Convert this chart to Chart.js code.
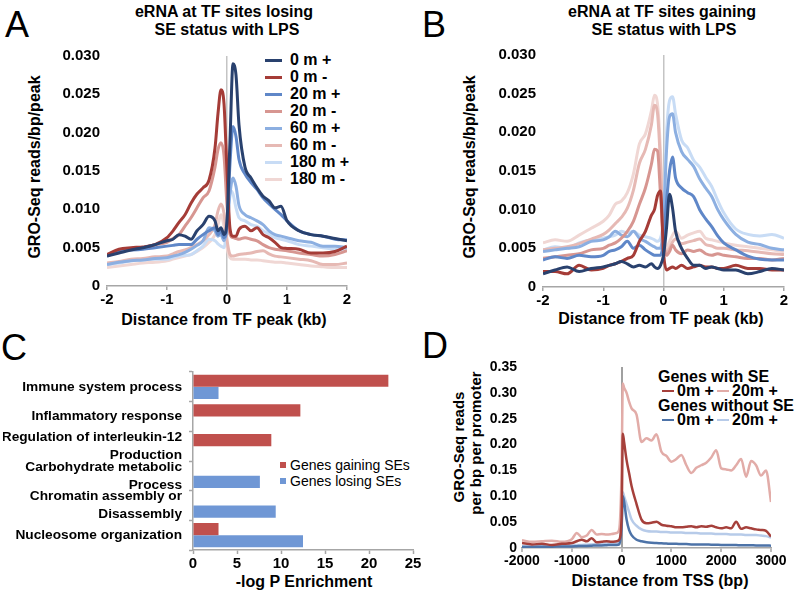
<!DOCTYPE html>
<html>
<head>
<meta charset="utf-8">
<script src="https://cdn.jsdelivr.net/npm/chart.js@4.4.0/dist/chart.umd.min.js"></script>
<style>
  body { margin: 0; background: #fff; }
  #page { position: relative; width: 799px; height: 594px; overflow: hidden; font-family: "Liberation Sans", Arial, sans-serif; color: #000; }
  canvas { position: absolute; }
  .t { position: absolute; white-space: nowrap; font-weight: bold; font-size: 16px; line-height: 1; transform: translate(-50%, -50%); }
  .yt { transform: translate(-50%, -50%) rotate(-90deg); }
  .l { position: absolute; white-space: nowrap; font-weight: bold; font-size: 16px; line-height: 1; transform: translateY(-50%); }
  .letter { position: absolute; font-size: 36px; line-height: 1; }
  .dash { position: absolute; }
</style>
</head>
<body>
<div id="page">
  <div class="letter" style="left:5px;top:7px">A</div>
  <div class="letter" style="left:422px;top:7px">B</div>
  <div class="letter" style="left:1px;top:330px">C</div>
  <div class="letter" style="left:422px;top:328px">D</div>

  <div class="t" style="left:224px;top:12px">eRNA at TF sites losing</div>
  <div class="t" style="left:227px;top:30px">SE status with LPS</div>
  <div class="t" style="left:662px;top:12px">eRNA at TF sites gaining</div>
  <div class="t" style="left:664px;top:30px">SE status with LPS</div>

  <div class="t yt" style="left:35px;top:167px">GRO-Seq reads/bp/peak</div>
  <div class="t yt" style="left:470px;top:167px">GRO-Seq reads/bp/peak</div>
  <div class="t" style="left:224px;top:320px">Distance from TF peak (kb)</div>
  <div class="t" style="left:661px;top:319px">Distance from TF peak (kb)</div>

  <div class="t" style="left:304px;top:582px">-log P Enrichment</div>
  <div class="t" style="left:660px;top:581px">Distance from TSS (bp)</div>
  <div class="t yt" style="left:458px;top:447px;font-size:15px">GRO-Seq reads</div>
  <div class="t yt" style="left:475px;top:443px;font-size:15px">per bp per promoter</div>

  <div id="legA"></div>
  <div id="legC"></div>
  <div id="legD"></div>

  <canvas id="chartA" width="400" height="310" style="left:0;top:0"></canvas>
  <canvas id="chartB" width="399" height="310" style="left:400px;top:0"></canvas>
  <canvas id="chartC" width="440" height="264" style="left:0;top:330px"></canvas>
  <canvas id="chartD" width="399" height="264" style="left:400px;top:330px"></canvas>
</div>
<script>
// distance from TF peak (kb), shared by panels A and B
var distKb = [-2, -1.8, -1.6, -1.4, -1.2, -1, -0.9, -0.8, -0.7, -0.6, -0.5, -0.4, -0.3, -0.2,
  -0.15, -0.1, -0.05, 0, 0.05, 0.1, 0.15, 0.2, 0.3, 0.4, 0.5, 0.6, 0.7, 0.8, 0.9, 1, 1.2, 1.4, 1.6, 1.8, 2];
var timeNames = ['0 m +', '0 m -', '20 m +', '20 m -', '60 m +', '60 m -', '180 m +', '180 m -'];

// panel A: TF sites losing SE status
var lose0p = [0.0039,0.0043,0.0047,0.0050,0.0054,0.0059, 0.0061,0.0067,0.0065,0.0061,0.0072,0.0080,0.0091,0.0085,
  0.0072,0.0076,0.0067,0.0085,0.0190,0.0290,0.0275,0.0210, 0.0155,0.0141,0.0128,0.0117,0.0111,0.0102,0.0104,0.0085,
  0.0072,0.0067,0.0065,0.0062,0.0059];
var lose0m = [0.0041,0.0048,0.0050,0.0051,0.0054,0.0063, 0.0072,0.0083,0.0093,0.0108,0.0120,0.0128,0.0138,0.0180,
  0.0225,0.0256,0.0238,0.0150,0.0075,0.0065,0.0065,0.0074, 0.0078,0.0072,0.0076,0.0067,0.0063,0.0057,0.0050,0.0049,
  0.0048,0.0043,0.0043,0.0045,0.0052];
var lose20p = [0.0039,0.0046,0.0047,0.0048,0.0050,0.0052, 0.0053,0.0054,0.0054,0.0054,0.0061,0.0067,0.0072,0.0076,
  0.0067,0.0072,0.0063,0.0080,0.0160,0.0208,0.0195,0.0165, 0.0146,0.0135,0.0126,0.0115,0.0107,0.0100,0.0093,0.0085,
  0.0072,0.0067,0.0065,0.0061,0.0060];
var lose20m = [0.0041,0.0045,0.0048,0.0050,0.0054,0.0057, 0.0062,0.0067,0.0078,0.0089,0.0102,0.0115,0.0124,0.0155,
  0.0178,0.0187,0.0170,0.0105,0.0067,0.0063,0.0062,0.0061, 0.0063,0.0061,0.0059,0.0054,0.0050,0.0048,0.0047,0.0046,
  0.0043,0.0041,0.0039,0.0041,0.0046];
var lose60p = [0.0028,0.0031,0.0033,0.0034,0.0036,0.0037, 0.0039,0.0041,0.0044,0.0048,0.0053,0.0059,0.0076,0.0072,
  0.0065,0.0067,0.0059,0.0075,0.0120,0.0141,0.0130,0.0105, 0.0093,0.0089,0.0085,0.0080,0.0072,0.0067,0.0065,0.0063,
  0.0059,0.0057,0.0052,0.0052,0.0050];
var lose60m = [0.0030,0.0032,0.0035,0.0036,0.0038,0.0039, 0.0042,0.0045,0.0047,0.0050,0.0054,0.0059,0.0067,0.0080,
  0.0098,0.0107,0.0095,0.0060,0.0041,0.0039,0.0040,0.0041, 0.0042,0.0043,0.0045,0.0046,0.0042,0.0039,0.0038,0.0037,
  0.0035,0.0033,0.0028,0.0028,0.0030];
var lose180p = [0.0028,0.0030,0.0033,0.0034,0.0035,0.0035, 0.0037,0.0039,0.0040,0.0041,0.0046,0.0052,0.0061,0.0059,
  0.0055,0.0052,0.0050,0.0080,0.0125,0.0120,0.0102,0.0089, 0.0085,0.0080,0.0078,0.0072,0.0068,0.0063,0.0061,0.0059,
  0.0054,0.0052,0.0050,0.0048,0.0046];
var lose180m = [0.0024,0.0026,0.0028,0.0030,0.0031,0.0033, 0.0035,0.0037,0.0039,0.0041,0.0045,0.0050,0.0057,0.0067,
  0.0080,0.0093,0.0078,0.0050,0.0037,0.0035,0.0035,0.0035, 0.0035,0.0034,0.0034,0.0033,0.0032,0.0031,0.0031,0.0030,
  0.0028,0.0026,0.0025,0.0024,0.0024];

// panel B: TF sites gaining SE status
var gain0p = [0.0017,0.0022,0.0026,0.0020,0.0024,0.0026, 0.0028,0.0030,0.0033,0.0030,0.0026,0.0028,0.0026,0.0030,
  0.0026,0.0024,0.0028,0.0041,0.0076,0.0120,0.0102,0.0072, 0.0050,0.0037,0.0028,0.0028,0.0024,0.0026,0.0024,0.0022,
  0.0022,0.0017,0.0020,0.0024,0.0022];
var gain0m = [0.0020,0.0020,0.0017,0.0028,0.0022,0.0024, 0.0028,0.0030,0.0033,0.0037,0.0041,0.0059,0.0072,0.0093,
  0.0100,0.0118,0.0124,0.0045,0.0022,0.0024,0.0026,0.0024, 0.0028,0.0024,0.0026,0.0028,0.0026,0.0026,0.0024,0.0024,
  0.0028,0.0024,0.0024,0.0022,0.0022];
var gain20p = [0.0035,0.0039,0.0037,0.0041,0.0039,0.0041, 0.0046,0.0048,0.0052,0.0059,0.0050,0.0054,0.0048,0.0043,
  0.0041,0.0041,0.0041,0.0060,0.0110,0.0150,0.0168,0.0141, 0.0128,0.0122,0.0117,0.0100,0.0088,0.0078,0.0066,0.0057,
  0.0048,0.0040,0.0036,0.0035,0.0035];
var gain20m = [0.0037,0.0039,0.0041,0.0043,0.0048,0.0050, 0.0054,0.0057,0.0063,0.0072,0.0085,0.0107,0.0128,0.0159,
  0.0178,0.0176,0.0120,0.0059,0.0041,0.0046,0.0054,0.0048, 0.0043,0.0048,0.0046,0.0048,0.0043,0.0041,0.0043,0.0041,
  0.0039,0.0037,0.0037,0.0035,0.0037];
var gain60p = [0.0046,0.0048,0.0050,0.0052,0.0059,0.0061, 0.0065,0.0072,0.0067,0.0065,0.0072,0.0063,0.0059,0.0054,
  0.0052,0.0050,0.0050,0.0085,0.0176,0.0220,0.0224,0.0200, 0.0175,0.0165,0.0156,0.0140,0.0128,0.0117,0.0100,0.0087,
  0.0068,0.0058,0.0055,0.0050,0.0048];
var gain60m = [0.0048,0.0050,0.0052,0.0056,0.0062,0.0068, 0.0074,0.0082,0.0090,0.0102,0.0125,0.0160,0.0178,0.0210,
  0.0235,0.0225,0.0160,0.0068,0.0045,0.0050,0.0058,0.0062, 0.0056,0.0058,0.0060,0.0062,0.0055,0.0053,0.0050,0.0050,
  0.0048,0.0047,0.0045,0.0043,0.0042];
var gain180p = [0.0048,0.0052,0.0050,0.0057,0.0061,0.0063, 0.0065,0.0067,0.0072,0.0070,0.0072,0.0067,0.0065,0.0063,
  0.0061,0.0059,0.0063,0.0093,0.0198,0.0241,0.0246,0.0224, 0.0190,0.0180,0.0164,0.0155,0.0142,0.0130,0.0112,0.0096,
  0.0075,0.0068,0.0066,0.0068,0.0063];
var gain180m = [0.0057,0.0061,0.0059,0.0067,0.0076,0.0085, 0.0093,0.0107,0.0111,0.0122,0.0146,0.0185,0.0198,0.0228,
  0.0248,0.0237,0.0176,0.0076,0.0050,0.0059,0.0067,0.0072, 0.0063,0.0067,0.0070,0.0072,0.0063,0.0061,0.0059,0.0057,
  0.0054,0.0052,0.0050,0.0048,0.0046];

// panel C: GO enrichment
var goTerms = [
  'Immune system process',
  'Inflammatory response',
  ['Regulation of interleukin-12', 'Production'],
  ['Carbohydrate metabolic', 'Process'],
  ['Chromatin assembly or', 'Disassembly'],
  'Nucleosome organization'
];
var gainingSE = [22.2, 12.2, 8.9, 0, 0, 2.9];
var losingSE = [2.9, 0, 0, 7.6, 9.4, 12.5];

// panel D: distance from TSS (bp)
var distTss = [-2000,-1800,-1600,-1400,-1200,-1000,-900,-800,-700,-600,-500,-400,-300,-200,-100,-50,
  0,25,50,100,150,200,300,400,500,600,700,800,900,1000,
  1100,1200,1300,1400,1500,1600,1700,1800,1900,2000,2100,2200,2300,2400,2500,2600,2700,2800,2900,3000];
var withSE0 = [0.0096,0.007,0.008,0.006,0.008,0.0096,0.013,0.016,0.013,0.019,0.011,0.012,0.013,0.012,0.013,0.016,
  0.06,0.221,0.205,0.17,0.145,0.12,0.085,0.055,0.048,0.049,0.051,0.045,0.043,0.042,
  0.04,0.04,0.041,0.042,0.04,0.042,0.041,0.043,0.04,0.038,0.04,0.038,0.051,0.037,0.04,0.038,0.036,0.035,0.033,0.022];
var withSE20 = [0.015,0.012,0.013,0.014,0.012,0.017,0.029,0.021,0.024,0.035,0.026,0.027,0.026,0.027,0.029,0.035,
  0.15,0.318,0.31,0.30,0.283,0.27,0.258,0.205,0.212,0.208,0.22,0.186,0.178,0.167,
  0.172,0.18,0.16,0.145,0.155,0.16,0.165,0.175,0.189,0.154,0.152,0.15,0.16,0.172,0.138,0.168,0.16,0.14,0.15,0.089];
var noSE0 = [0.002,0.002,0.0025,0.0025,0.003,0.003,0.0035,0.004,0.004,0.0045,0.005,0.005,0.0055,0.006,0.006,0.007,
  0.04,0.1,0.09,0.055,0.035,0.025,0.016,0.013,0.011,0.01,0.0095,0.009,0.0085,0.008,
  0.008,0.0075,0.0075,0.007,0.007,0.0068,0.0066,0.0065,0.0063,0.006,0.006,0.0058,0.0056,0.0055,0.0053,0.0052,0.005,0.005,0.0048,0.0045];
var noSE20 = [0.004,0.004,0.0045,0.005,0.005,0.0055,0.006,0.006,0.0065,0.007,0.0075,0.008,0.0085,0.009,0.01,0.012,
  0.045,0.108,0.1,0.085,0.07,0.055,0.043,0.036,0.033,0.032,0.032,0.031,0.031,0.03,
  0.03,0.03,0.029,0.029,0.029,0.028,0.028,0.028,0.027,0.027,0.027,0.026,0.026,0.026,0.025,0.025,0.025,0.024,0.023,0.02];

// styles
var timeColors = ['#29416e', '#a53c37', '#5f87c8', '#d79691', '#8cafe1', '#e6b9b4', '#c8dcf5', '#f0d7d4'];
var tssNames = ['Genes with SE 0m +', 'Genes with SE 20m +', 'Genes without SE 0m +', 'Genes without SE 20m +'];
var tssColors = ['#a6403b', '#e2aca8', '#4d73a8', '#b7cbe9'];
var barRed = '#c0504d', barBlue = '#6f97d5';
var axisColor = '#a6a6a6';

function boldFont(iSize) {
    return { family: 'Liberation Sans', size: iSize, weight: 'bold' };
}

function lineSets(names, colors, xs, series, width) {
    return series.map(function(vals, i) {
        return {
            label: names[i],
            data: xs.map(function(x, j) { return { x: x, y: vals[j] }; }),
            borderColor: colors[i],
            borderWidth: width,
            pointRadius: 0,
            fill: false,
            cubicInterpolationMode: 'monotone'
        };
    });
}

function profileChart(sId, aDatasets, o) {
    return new Chart(document.getElementById(sId), {
        type: 'line',
        data: { datasets: aDatasets },
        options: {
            responsive: false,
            animation: false,
            layout: { padding: o.pad },
            plugins: { legend: { display: false }, tooltip: { enabled: false } },
            scales: {
                x: {
                    type: 'linear', min: o.xmin, max: o.xmax,
                    ticks: { stepSize: o.xstep, padding: 1, color: '#000', font: boldFont(o.xFont), maxRotation: 0, autoSkip: false,
                        callback: function(v) { return String(v); } },
                    grid: {
                        color: function(c) { return c.tick && c.tick.value === 0 ? o.zeroColor : 'rgba(0,0,0,0)'; },
                        lineWidth: o.zeroWidth, tickColor: axisColor, tickWidth: 1.5, tickLength: 4
                    },
                    border: { color: axisColor, width: 1.5 },
                    afterFit: function(s) { s.height = 22; }
                },
                y: {
                    min: 0, max: o.ymax,
                    ticks: { stepSize: o.ystep, padding: o.ypad, color: '#000', font: boldFont(o.yFont),
                        callback: function(v) { return v === 0 ? '0' : v.toFixed(o.dec); } },
                    grid: { display: false, drawTicks: false },
                    border: { display: false },
                    afterFit: function(s) { s.width = 60; }
                }
            }
        }
    });
}

profileChart('chartA',
    lineSets(timeNames, timeColors, distKb, [lose0p, lose0m, lose20p, lose20m, lose60p, lose60m, lose180p, lose180m], 3),
    { pad: { left: 47, right: 53, top: 56, bottom: 2 }, xmin: -2, xmax: 2, xstep: 1, ymax: 0.03, ystep: 0.005, dec: 3,
      ypad: 7, xFont: 15, yFont: 15, zeroColor: '#c4c4c4', zeroWidth: 1.5 });

profileChart('chartB',
    lineSets(timeNames, timeColors, distKb, [gain0p, gain0m, gain20p, gain20m, gain60p, gain60m, gain180p, gain180m], 3),
    { pad: { left: 83, right: 15, top: 55, bottom: 1 }, xmin: -2, xmax: 2, xstep: 1, ymax: 0.03, ystep: 0.005, dec: 3,
      ypad: 7, xFont: 15, yFont: 15, zeroColor: '#c4c4c4', zeroWidth: 1.5 });

profileChart('chartD',
    lineSets(tssNames, tssColors, distTss, [withSE0, withSE20, noSE0, noSE20], 2.5),
    { pad: { left: 62, right: 28, top: 37, bottom: 24 }, xmin: -2000, xmax: 3000, xstep: 1000, ymax: 0.35, ystep: 0.05, dec: 2,
      ypad: 5, xFont: 14, yFont: 14, zeroColor: '#a0a0a0', zeroWidth: 2 });

new Chart(document.getElementById('chartC'), {
    type: 'bar',
    data: {
        labels: goTerms,
        datasets: [
            { label: 'Genes gaining SEs', data: gainingSE, backgroundColor: barRed },
            { label: 'Genes losing SEs', data: losingSE, backgroundColor: barBlue }
        ]
    },
    options: {
        indexAxis: 'y',
        responsive: false,
        animation: false,
        layout: { padding: { left: 3, right: 27, top: 42, bottom: 22 } },
        datasets: { bar: { categoryPercentage: 0.82, barPercentage: 1 } },
        plugins: { legend: { display: false }, tooltip: { enabled: false } },
        scales: {
            x: {
                min: 0, max: 25,
                ticks: { stepSize: 5, padding: 1, color: '#000', font: boldFont(15) },
                grid: { drawOnChartArea: false, tickLength: 4, tickColor: axisColor, tickWidth: 1.5 },
                border: { color: axisColor, width: 1.5 },
                afterFit: function(s) { s.height = 22; }
            },
            y: {
                ticks: { padding: 7, color: '#000', autoSkip: false,
                    font: { family: 'Liberation Sans', size: 13.7, weight: 'bold', lineHeight: 1.3 } },
                grid: { drawOnChartArea: false, offset: true, tickLength: 4, tickColor: axisColor, tickWidth: 1.5 },
                border: { color: axisColor, width: 1.5 },
                afterFit: function(s) { s.width = 190; }
            }
        }
    }
});

// html legends
function addLegendRow(oWrp, sText, sColor, x, y, w, h, sFont) {
    var d = document.createElement('div');
    d.className = 'dash';
    d.style.cssText = 'left:' + x + 'px;top:' + (y - h / 2) + 'px;width:' + w + 'px;height:' + h + 'px;background:' + sColor;
    oWrp.appendChild(d);
    var t = document.createElement('div');
    t.className = 'l';
    t.textContent = sText;
    t.style.left = (x + w + (sFont ? 4 : 8)) + 'px';
    t.style.top = y + 'px';
    if (sFont) t.style.font = sFont;
    oWrp.appendChild(t);
}

var oLegA = document.getElementById('legA');
timeNames.forEach(function(s, i) {
    addLegendRow(oLegA, s, timeColors[i], 265, 60 + 17.05 * i, 17, 3);
});

var oLegC = document.getElementById('legC');
var sLegCFont = 'normal 14px/1 "Liberation Sans", Arial, sans-serif';
addLegendRow(oLegC, 'Genes gaining SEs', barRed, 280, 465, 6, 6, sLegCFont);
addLegendRow(oLegC, 'Genes losing SEs', barBlue, 280, 481, 6, 6, sLegCFont);

var oLegD = document.getElementById('legD');
[['Genes with SE', 377], ['Genes without SE', 406]].forEach(function(a) {
    var t = document.createElement('div');
    t.className = 'l';
    t.textContent = a[0];
    t.style.left = '658px';
    t.style.top = a[1] + 'px';
    oLegD.appendChild(t);
});
function addShortDash(sText, sColor, x, y) {
    var d = document.createElement('div');
    d.className = 'dash';
    d.style.cssText = 'left:' + x + 'px;top:' + (y - 1) + 'px;width:12px;height:2px;background:' + sColor;
    oLegD.appendChild(d);
    var t = document.createElement('div');
    t.className = 'l';
    t.textContent = sText;
    t.style.left = (x + 15) + 'px';
    t.style.top = y + 'px';
    oLegD.appendChild(t);
}
addShortDash('0m +', tssColors[0], 662, 391);
addShortDash('20m +', tssColors[1], 717, 391);
addShortDash('0m +', tssColors[2], 662, 420);
addShortDash('20m +', tssColors[3], 717, 420);
</script>
</body>
</html>
